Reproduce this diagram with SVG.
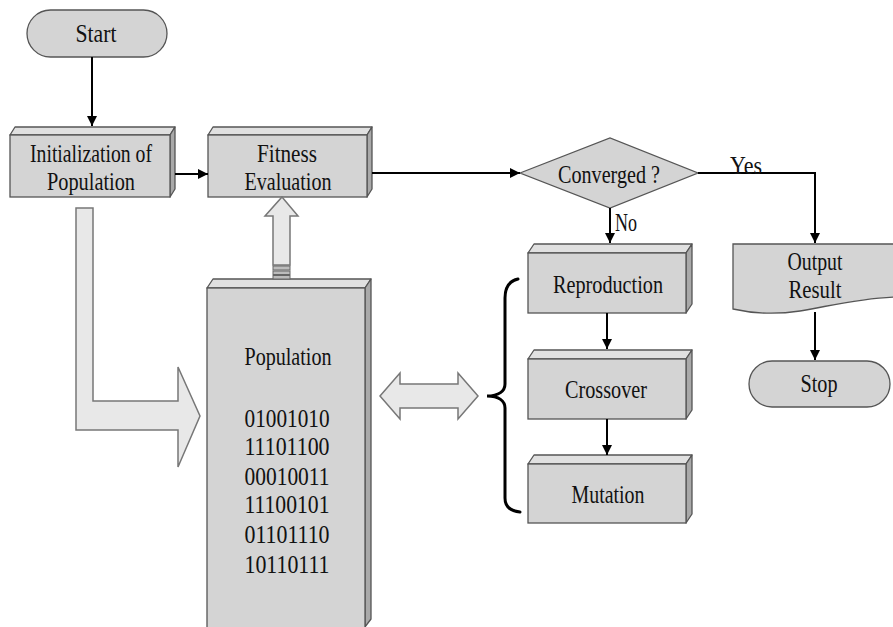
<svg xmlns="http://www.w3.org/2000/svg" width="893" height="627" viewBox="0 0 893 627">
  <style>
    text { font-family: "Liberation Serif", "Times New Roman", serif; font-size: 26px; fill: #111; text-anchor: middle; }
    .front { fill: #d4d4d4; stroke: #555; stroke-width: 1.3; }
    .top { fill: #e0e0e0; stroke: #555; stroke-width: 1.3; stroke-linejoin: round; }
    .side { fill: #a9a9a9; stroke: #555; stroke-width: 1.3; stroke-linejoin: round; }
    .term { fill: #d4d4d4; stroke: #555; stroke-width: 1.3; }
    .big { fill: #e8e8e8; stroke: #777; stroke-width: 1.5; stroke-linejoin: miter; }
    .wire { fill: none; stroke: #000; stroke-width: 2; }
    .brace { fill: none; stroke: #000; stroke-width: 3; stroke-linecap: round; }
  </style>
  <defs>
    <marker id="head" viewBox="0 0 10 10" refX="10" refY="5" markerWidth="10" markerHeight="10" markerUnits="userSpaceOnUse" orient="auto">
      <path d="M0,0 L10,5 L0,10 Z" fill="#000"/>
    </marker>
  </defs>

  <rect width="893" height="627" fill="#fff"/>

  <!-- Start terminal -->
  <g id="start">
    <rect class="term" x="27" y="10" width="140" height="47" rx="23.5"/>
    <text x="96" y="42" font-size="28" textLength="41" lengthAdjust="spacingAndGlyphs">Start</text>
  </g>

  <!-- Initialization of Population -->
  <g id="init">
    <polygon class="top" points="10,135 15,127 175,127 170,135"/>
    <polygon class="side" points="170,135 175,127 175,189 170,197"/>
    <rect class="front" x="10" y="135" width="160" height="62"/>
    <text x="91" y="162" textLength="122" lengthAdjust="spacingAndGlyphs">Initialization of</text>
    <text x="91" y="190" textLength="88" lengthAdjust="spacingAndGlyphs">Population</text>
  </g>

  <!-- Fitness Evaluation -->
  <g id="fitness">
    <polygon class="top" points="208,135 213,127 372,127 367,135"/>
    <polygon class="side" points="367,135 372,127 372,189 367,197"/>
    <rect class="front" x="208" y="135" width="159" height="62"/>
    <text x="287" y="162" textLength="60" lengthAdjust="spacingAndGlyphs">Fitness</text>
    <text x="288" y="190" textLength="87" lengthAdjust="spacingAndGlyphs">Evaluation</text>
  </g>

  <!-- Converged? decision -->
  <g id="converged">
    <polygon class="term" points="520,173 610,138 698,173 610,208"/>
    <text x="609" y="183" textLength="102" lengthAdjust="spacingAndGlyphs">Converged ?</text>
  </g>

  <!-- Population store -->
  <g id="population">
    <polygon class="top" points="207,288 213,279 371,279 365,288"/>
    <polygon class="side" points="365,288 371,279 371,619 365,627"/>
    <rect class="front" x="207" y="288" width="158" height="345"/>
    <text x="288" y="365" textLength="87" lengthAdjust="spacingAndGlyphs">Population</text>
    <g font-size="28">
      <text x="287" y="427" textLength="85" lengthAdjust="spacingAndGlyphs">01001010</text>
      <text x="287" y="455" textLength="85" lengthAdjust="spacingAndGlyphs">11101100</text>
      <text x="287" y="485" textLength="85" lengthAdjust="spacingAndGlyphs">00010011</text>
      <text x="287" y="513" textLength="85" lengthAdjust="spacingAndGlyphs">11100101</text>
      <text x="287" y="543" textLength="85" lengthAdjust="spacingAndGlyphs">01101110</text>
      <text x="287" y="573" textLength="85" lengthAdjust="spacingAndGlyphs">10110111</text>
    </g>
  </g>

  <!-- Genetic operators -->
  <g id="reproduction">
    <polygon class="top" points="528,253 534,244 692,244 686,253"/>
    <polygon class="side" points="686,253 692,244 692,304 686,313"/>
    <rect class="front" x="528" y="253" width="158" height="60"/>
    <text x="608" y="293" textLength="110" lengthAdjust="spacingAndGlyphs">Reproduction</text>
  </g>
  <g id="crossover">
    <polygon class="top" points="528,359 534,350 692,350 686,359"/>
    <polygon class="side" points="686,359 692,350 692,410 686,419"/>
    <rect class="front" x="528" y="359" width="158" height="60"/>
    <text x="606" y="398" textLength="82" lengthAdjust="spacingAndGlyphs">Crossover</text>
  </g>
  <g id="mutation">
    <polygon class="top" points="528,464 534,455 692,455 686,464"/>
    <polygon class="side" points="686,464 692,455 692,514 686,523"/>
    <rect class="front" x="528" y="464" width="158" height="59"/>
    <text x="608" y="503" textLength="73" lengthAdjust="spacingAndGlyphs">Mutation</text>
  </g>

  <!-- Output Result document -->
  <g id="output">
    <path class="term" d="M733,244 L896,244 L896,297 C 860,298 830,306 800,311 C 780,314 755,314 733,309 Z"/>
    <text x="815" y="270" textLength="55" lengthAdjust="spacingAndGlyphs">Output</text>
    <text x="815" y="298" textLength="53" lengthAdjust="spacingAndGlyphs">Result</text>
  </g>

  <!-- Stop terminal -->
  <g id="stop">
    <rect class="term" x="749" y="361" width="141" height="46" rx="23"/>
    <text x="819" y="392" textLength="37" lengthAdjust="spacingAndGlyphs">Stop</text>
  </g>

  <!-- Connectors -->
  <g id="connectors">
    <line class="wire" x1="92" y1="57" x2="92" y2="126" marker-end="url(#head)"/>
    <line class="wire" x1="175" y1="174" x2="208" y2="174" marker-end="url(#head)"/>
    <line class="wire" x1="372" y1="173" x2="520" y2="173" marker-end="url(#head)"/>
    <polyline class="wire" points="698,173 815,173 815,243" marker-end="url(#head)"/>
    <line class="wire" x1="610" y1="208" x2="610" y2="243" marker-end="url(#head)"/>
    <line class="wire" x1="607" y1="313" x2="607" y2="349" marker-end="url(#head)"/>
    <line class="wire" x1="607" y1="419" x2="607" y2="455" marker-end="url(#head)"/>
    <line class="wire" x1="815" y1="312" x2="815" y2="360" marker-end="url(#head)"/>
    <text x="746" y="174" textLength="32" lengthAdjust="spacingAndGlyphs">Yes</text>
    <text x="626" y="231" textLength="22" lengthAdjust="spacingAndGlyphs">No</text>

    <!-- bent block arrow: initial population into the store -->
    <polygon class="big" points="76,208 93,208 93,401 178,401 178,367 200,416 178,467 178,430 76,430"/>

    <!-- block arrow: population up to fitness evaluation -->
    <polygon class="big" points="282,197 298,216 290,216 290,265 273,265 273,216 265,216"/>
    <g fill="#bcbcbc" stroke="#666" stroke-width="1">
      <rect x="273" y="266" width="17" height="4"/>
      <rect x="273" y="271" width="17" height="3.5"/>
      <rect x="273" y="275.5" width="17" height="3.5"/>
    </g>

    <!-- two-way block arrow between store and operators -->
    <polygon class="big" points="380,396 400,373 400,384 458,384 458,373 478,396 458,419 458,408 400,408 400,419"/>

    <!-- brace grouping the operators -->
    <path class="brace" d="M518,279 C 509,281 505,288 505,298 L505,384 C 505,391 499,396 487,396 C 499,396 505,401 505,408 L505,498 C 505,506 510,511 520,512"/>
  </g>
</svg>
